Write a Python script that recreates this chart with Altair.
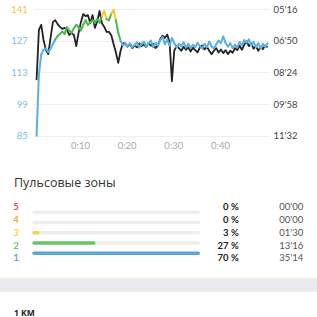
import altair as alt
import pandas as pd

# ---------------- data ----------------
T0 = 0.7      # first sample (minutes)
STEP = 0.5    # sampling step (minutes)

hr_values = [
    85, 112, 121, 123, 123.5, 122, 123.5, 125.5, 127.5, 129,
    130, 131, 130, 133, 131.5, 130.5, 132.5, 134, 133, 131.5,
    134, 136, 134, 135, 136, 135, 136.5, 135, 138, 140,
    136.5, 136, 139, 140.5, 136, 130.5, 127, 125,
    125.5, 124.5, 125.8, 124.2, 125.0, 126.2, 124.0, 125.6, 126.5, 124.4,
    125.8, 127.0, 124.2, 126.0, 125.0, 127.2, 128.6, 125.5, 127.4, 124.8,
    128.2, 126.0, 124.0, 125.6, 124.6, 126.2, 124.0, 125.5, 123.8, 125.2,
    124.2, 126.0, 124.6, 123.6, 125.6, 124.2, 126.5, 124.4, 123.5, 125.4,
    127.0, 126.0, 128.8, 126.0, 124.4, 125.8, 123.8, 125.2, 124.0, 126.4,
    125.0, 127.2, 126.2, 127.5, 124.8, 126.4, 124.2, 125.8, 123.6, 125.6,
    124.4, 125.8,
]

pace_values = [  # seconds per km
    527, 378, 363, 408, 438, 450, 402, 355, 349, 361,
    369, 375, 372, 378, 393, 387, 393, 426, 387, 355,
    331, 337, 334, 358, 334, 372, 352, 322, 358, 369,
    384, 384, 393, 420, 445, 476, 440, 418,
    418, 428, 420, 432, 424, 430, 418, 426, 421, 429,
    417, 425, 420, 432, 424, 405, 395, 402, 392, 415,
    530, 440, 425, 432, 440, 428, 437, 430, 442, 431,
    438, 445, 430, 424, 436, 428, 440, 450, 440, 432,
    445, 436, 447, 438, 450, 440, 446, 432, 438, 425,
    437, 422, 412, 426, 418, 434, 426, 440, 428, 435,
    424, 430,
]

hr_ticks = [85, 99, 113, 127, 141]
pace_ticks = [316, 410, 504, 598, 692]
time_ticks = [10, 20, 30, 40]

zone_ids = [5, 4, 3, 2, 1]
zone_pct = ["0 %", "0 %", "3 %", "27 %", "70 %"]
zone_time = ["00'00", "00'00", "01'30", "13'16", "35'14"]
zone_seconds = [0, 0, 90, 796, 2114]
zone_colors = ["#e2474d", "#f1a93a", "#f4d447", "#6bc567", "#5aa6d9"]

title_text = ["Пульсовые зоны"]
footer_text = ["1 KM"]

BLUE = "#5ab0e2"
GREEN = "#4db84a"
YELLOW = "#f3c531"

# ---------------- tables ----------------
def seg_color(a, b):
    if max(a, b) >= 139.5:
        return YELLOW
    if (a + b) / 2 >= 128:
        return GREEN
    return BLUE

seg_rows = []
for i in range(len(hr_values) - 1):
    a, b = hr_values[i], hr_values[i + 1]
    c = seg_color(a, b)
    seg_rows.append({"t": T0 + STEP * i, "hr": a, "seg": i, "col": c})
    seg_rows.append({"t": T0 + STEP * (i + 1), "hr": b, "seg": i, "col": c})
hr_df = pd.DataFrame(seg_rows)

pace_df = pd.DataFrame({
    "t": [T0 + STEP * i for i in range(len(pace_values))],
    "pace": pace_values,
})

zmax = max(zone_seconds)
zone_df = pd.DataFrame({
    "zone": zone_ids,
    "label": [str(z) for z in zone_ids],
    "pct": zone_pct,
    "time": zone_time,
    "sec": zone_seconds,
    "start": [0] * len(zone_ids),
    "full": [zmax] * len(zone_ids),
    "color": zone_colors,
})

W, H = 235.7, 126.7
PL, PT = 33.3, 9

FONT = "Lato"
CYR = "Open Sans"

xscale = alt.Scale(domain=[0, 50.5], nice=False, zero=False)

pace_label = ("(floor(datum.value/60) < 10 ? '0' : '') + floor(datum.value/60) + \"'\" + "
              "(datum.value % 60 < 10 ? '0' : '') + (datum.value % 60)")

pace = alt.Chart(pace_df).mark_line(color="#222222", strokeWidth=1.8, strokeJoin="round").encode(
    x=alt.X("t:Q", scale=xscale, axis=None),
    y=alt.Y("pace:Q",
            scale=alt.Scale(domain=[316, 692], reverse=True, nice=False, zero=False),
            axis=alt.Axis(orient="right", values=pace_ticks, labelExpr=pace_label,
                          grid=False, domain=False, ticks=False, labelPadding=4,
                          labelColor="#444444", labelFontSize=9.5, labelFont=FONT,
                          title=None)),
)

hr = alt.Chart(hr_df).mark_line(strokeWidth=2, strokeCap="round", strokeJoin="round").encode(
    x=alt.X("t:Q", scale=xscale,
            axis=alt.Axis(values=time_ticks, labelExpr="'0:' + datum.value", grid=False,
                          domain=False, ticks=False, labelColor="#aaaaaa", labelFontSize=9.5,
                          labelFont=FONT, labelPadding=5, title=None)),
    y=alt.Y("hr:Q", scale=alt.Scale(domain=[85, 141], nice=False, zero=False),
            axis=alt.Axis(orient="left", values=hr_ticks, grid=True, gridColor="#efefef",
                          domain=False, ticks=False,
                          labelColor=alt.ExprRef(expr="datum.value >= 139 ? '#f2c43a' : '#7ec0e2'"),
                          labelPadding=6, labelFontSize=9.5, labelFont=FONT, title=None)),
    color=alt.Color("col:N", scale=None),
    detail="seg:N",
)

zx = alt.Scale(domain=[0, zmax], range=[32.3 - PL, 200 - PL], nice=False, zero=False)
zy = alt.Scale(domain=[1, 5], range=[258.3 - PT, 207.3 - PT], nice=False, zero=False)

zone_bg = alt.Chart(zone_df).mark_bar(height=3.5, cornerRadius=1.75, color="#eeeeee").encode(
    x=alt.X("start:Q", scale=zx, axis=None),
    x2="full:Q",
    y=alt.Y("zone:Q", scale=zy, axis=None),
)
zone_bar = alt.Chart(zone_df).transform_filter("datum.sec > 0").mark_bar(
    height=3.5, cornerRadius=1.75).encode(
    x=alt.X("start:Q", scale=zx, axis=None),
    x2="sec:Q",
    y=alt.Y("zone:Q", scale=zy, axis=None),
    color=alt.Color("color:N", scale=None),
)
zone_num = alt.Chart(zone_df).mark_text(align="center", baseline="middle", fontSize=9.5,
                                        fontWeight="bold", font=FONT).encode(
    x=alt.value(16 - PL),
    y=alt.Y("zone:Q", scale=zy, axis=None),
    text="label:N",
    color=alt.Color("color:N", scale=None),
)
zone_pct_t = alt.Chart(zone_df).mark_text(align="right", baseline="middle", fontSize=9.5,
                                          fontWeight="bold", font=FONT, color="#222222").encode(
    x=alt.value(238.7 - PL),
    y=alt.Y("zone:Q", scale=zy, axis=None),
    text="pct:N",
)
zone_time_t = alt.Chart(zone_df).mark_text(align="right", baseline="middle", fontSize=9.5,
                                           font=FONT, color="#555555").encode(
    x=alt.value(303.3 - PL),
    y=alt.Y("zone:Q", scale=zy, axis=None),
    text="time:N",
)

title_mark = alt.Chart(pd.DataFrame({"text": title_text})).mark_text(
    align="left", baseline="middle", fontSize=12.5, font=CYR, color="#333333").encode(
    x=alt.value(14 - PL), y=alt.value(183.3 - PT), text="text:N")

band = alt.Chart(pd.DataFrame({"k": [0]})).mark_rect(color="#eaebee").encode(
    x=alt.value(-PL), x2=alt.value(317 - PL),
    y=alt.value(278.3 - PT), y2=alt.value(291.7 - PT))

footer = alt.Chart(pd.DataFrame({"text": footer_text})).mark_text(
    align="left", baseline="alphabetic", fontSize=8.5, fontWeight="bold", font=CYR,
    color="#222222").encode(
    x=alt.value(14 - PL), y=alt.value(316 - PT), text="text:N")

chart = alt.layer(
    pace, hr, zone_bg, zone_bar, zone_num, zone_pct_t, zone_time_t, title_mark, band, footer
).resolve_scale(
    x="independent", y="independent"
).properties(
    width=W, height=H,
    autosize=alt.AutoSizeParams(type="none"),
    padding={"left": PL, "top": PT, "right": 317 - PL - W, "bottom": 317 - PT - H},
    background="white",
).configure_view(stroke="transparent")

chart.save("out.html", embed_options={"renderer": "svg", "actions": False})
